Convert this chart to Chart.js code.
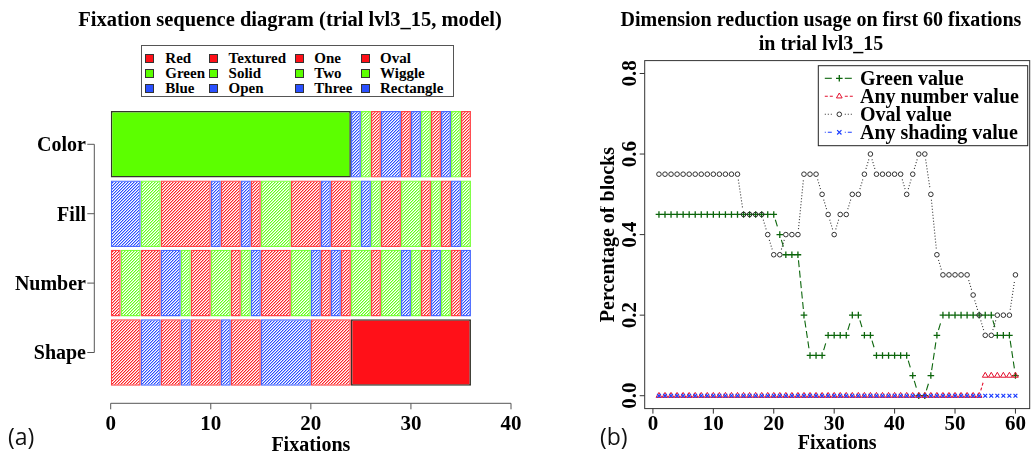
<!DOCTYPE html>
<html><head><meta charset="utf-8">
<script src="https://cdn.jsdelivr.net/npm/chart.js@4.4.1/dist/chart.umd.min.js"></script>
<style>
html,body{margin:0;padding:0;background:#fff;overflow:hidden;width:1035px;height:455px;}
#wrapA{position:absolute;left:0;top:0;width:600px;height:455px;}
#wrapB{position:absolute;left:600px;top:0;width:435px;height:455px;}
.tag{position:absolute;font-family:'Open Sans','Noto Sans',sans-serif;font-size:23px;color:#111;line-height:30px;}
#legA{position:absolute;left:141px;top:45px;width:313px;height:52px;border:1px solid #555;box-sizing:border-box;background:#fff;}
#legA .sq{position:absolute;width:9px;height:9px;border:1px solid #333;box-sizing:border-box;}
#legA .tx{position:absolute;font-family:'Liberation Serif','DejaVu Serif',serif;font-weight:bold;font-size:15px;line-height:15px;color:#000;white-space:nowrap;}
</style></head>
<body>
<div id="wrapA"><canvas id="chartA" width="600" height="455"></canvas></div>
<div id="wrapB"><canvas id="chartB" width="435" height="455"></canvas></div>
<div id="legA"></div>
<div class="tag" style="left:8px;top:421px;">(a)</div>
<div class="tag" style="left:600px;top:421px;">(b)</div>
<script>
// ---------------- DATA: panel (a) ----------------
const rowNames = ['Color', 'Fill', 'Number', 'Shape'];
// attribute value of the fixated block at each of the 36 fixations (R/G/B = first/second/third value)
const colorSeq  = ['G','G','G','G','G','G','G','G','G','G','G','G','G','G','G','G','G','G','G','G','G','G','G','G','B','G','R','B','B','R','B','G','R','B','G','R'];
const fillSeq   = ['B','B','B','G','G','R','R','R','R','R','B','R','R','B','R','G','G','G','R','R','R','B','R','R','G','B','G','R','R','G','G','R','G','R','B','G'];
const numberSeq = ['R','G','G','R','R','B','B','G','R','R','G','G','R','G','B','R','R','R','G','G','B','R','B','R','G','G','R','G','G','B','G','R','B','G','R','B'];
const shapeSeq  = ['R','R','R','B','B','R','R','B','R','R','R','B','R','R','R','B','B','B','B','B','R','R','R','R','R','R','R','R','R','R','R','R','R','R','R','R'];
// dimension the model reduced on at each fixation
const reducedDim = ['Color','Color','Color','Color','Color','Color','Color','Color','Color','Color','Color','Color','Color','Color','Color','Color','Color','Color','Color','Color','Color','Color','Color','Color','Shape','Shape','Shape','Shape','Shape','Shape','Shape','Shape','Shape','Shape','Shape','Shape'];
const xTicksA = [0, 10, 20, 30, 40];
const legendCols = [['Red','Green','Blue'], ['Textured','Solid','Open'], ['One','Two','Three'], ['Oval','Wiggle','Rectangle']];

// ---------------- DATA: panel (b) ----------------
const fixationNo = [1,2,3,4,5,6,7,8,9,10,11,12,13,14,15,16,17,18,19,20,21,22,23,24,25,26,27,28,29,30,31,32,33,34,35,36,37,38,39,40,41,42,43,44,45,46,47,48,49,50,51,52,53,54,55,56,57,58,59,60];
const greenValue = [0.45,0.45,0.45,0.45,0.45,0.45,0.45,0.45,0.45,0.45,0.45,0.45,0.45,0.45,0.45,0.45,0.45,0.45,0.45,0.45,
  0.40,0.35,0.35,0.35,0.20,0.10,0.10,0.10,0.15,0.15,0.15,0.15,0.20,0.20,0.15,0.15,0.10,0.10,0.10,0.10,
  0.10,0.10,0.05,0.00,0.00,0.05,0.15,0.20,0.20,0.20,0.20,0.20,0.20,0.20,0.20,0.20,0.15,0.15,0.15,0.05];
const anyNumberValue = [0,0,0,0,0,0,0,0,0,0,0,0,0,0,0,0,0,0,0,0,0,0,0,0,0,0,0,0,0,0,
  0,0,0,0,0,0,0,0,0,0,0,0,0,0,0,0,0,0,0,0,0,0,0,0,0.05,0.05,0.05,0.05,0.05,0.05];
const ovalValue = [0.55,0.55,0.55,0.55,0.55,0.55,0.55,0.55,0.55,0.55,0.55,0.55,0.55,0.55,0.45,0.45,0.45,0.45,0.40,0.35,
  0.35,0.40,0.40,0.40,0.55,0.55,0.55,0.50,0.45,0.40,0.45,0.45,0.50,0.50,0.55,0.60,0.55,0.55,0.55,0.55,
  0.55,0.50,0.55,0.60,0.60,0.50,0.35,0.30,0.30,0.30,0.30,0.30,0.25,0.20,0.15,0.15,0.20,0.20,0.20,0.30];
const anyShadingValue = [0,0,0,0,0,0,0,0,0,0,0,0,0,0,0,0,0,0,0,0,0,0,0,0,0,0,0,0,0,0,
  0,0,0,0,0,0,0,0,0,0,0,0,0,0,0,0,0,0,0,0,0,0,0,0,0,0,0,0,0,0];
const seriesNames = ['Green value', 'Any number value', 'Oval value', 'Any shading value'];
const xTicksB = [0, 10, 20, 30, 40, 50, 60];
const yTicksB = [0, 0.2, 0.4, 0.6, 0.8];

// ---------------- STYLES ----------------
const SERIF = "'Liberation Serif','DejaVu Serif',serif";
const rgbOf = {R:[255,32,36], G:[98,255,24], B:[40,78,255]};
const solidOf = {R:'#ff1018', G:'#5cff00', B:'#2a50ff'};
const ctxA = document.getElementById('chartA').getContext('2d');
function makeHatch(rgb){
  const c = document.createElement('canvas'); c.width = 6; c.height = 6;
  const g = c.getContext('2d'); const im = g.createImageData(6, 6);
  for (let y = 0; y < 6; y++) for (let x = 0; x < 6; x++) {
    const d = (x + y) % 3; const a = d === 0 ? 255 : (d === 1 ? 105 : 0);
    const o = (y * 6 + x) * 4;
    im.data[o] = rgb[0]; im.data[o+1] = rgb[1]; im.data[o+2] = rgb[2]; im.data[o+3] = a;
  }
  g.putImageData(im, 0, 0);
  return ctxA.createPattern(c, 'repeat');
}
const hatchOf = {R: makeHatch(rgbOf.R), G: makeHatch(rgbOf.G), B: makeHatch(rgbOf.B)};

// ---------------- panel (a) datasets from runs ----------------
const seqs = [colorSeq, fillSeq, numberSeq, shapeSeq];
const datasetsA = [];
seqs.forEach((seq, r) => {
  const runs = [];
  seq.forEach((v, i) => {
    const solid = reducedDim[i] === rowNames[r];
    const last = runs[runs.length - 1];
    if (last && last.v === v && last.solid === solid) last.end = i + 1;
    else runs.push({start: i, end: i + 1, v, solid});
  });
  runs.forEach(run => {
    const rgb = rgbOf[run.v];
    datasetsA.push({
      data: rowNames.map((_, k) => k === r ? [run.start, run.end] : null),
      backgroundColor: run.solid ? solidOf[run.v] : hatchOf[run.v],
      borderColor: run.solid ? 'rgba(30,30,20,0.9)' : `rgba(${rgb[0]},${rgb[1]},${rgb[2]},0.85)`,
      borderWidth: run.solid ? 1.6 : 1.3,
      borderSkipped: false,
      grouped: false,
      barPercentage: 0.96,
      categoryPercentage: 1
    });
  });
});

// legend (a)
const legA = document.getElementById('legA');
const colSq = [4.3, 67.8, 154.3, 220.3], colTx = [24.3, 87.6, 173.3, 239], rowC = [13.3, 28.3, 43.3];
const valKeys = ['R','G','B'];
legendCols.forEach((col, c) => col.forEach((label, r) => {
  const sq = document.createElement('div'); sq.className = 'sq';
  sq.style.left = (colSq[c] - 1) + 'px'; sq.style.top = (rowC[r] - 5.5) + 'px';
  sq.style.background = solidOf[valKeys[r]];
  legA.appendChild(sq);
  const tx = document.createElement('div'); tx.className = 'tx';
  tx.style.left = (colTx[c] - 1) + 'px'; tx.style.top = (rowC[r] - 8.5) + 'px';
  tx.textContent = label; legA.appendChild(tx);
}));

const axesA = {
  id: 'axesA',
  afterDraw(chart) {
    const ctx = chart.ctx, xs = chart.scales.x, ys = chart.scales.y, ca = chart.chartArea;
    ctx.save();
    ctx.strokeStyle = '#555'; ctx.lineWidth = 1; ctx.fillStyle = '#000';
    // y axis (R style, offset)
    const xa = ca.left - 16.4;
    const yFirst = ys.getPixelForValue(0), yLast = ys.getPixelForValue(rowNames.length - 1);
    ctx.beginPath(); ctx.moveTo(xa, yFirst); ctx.lineTo(xa, yLast); ctx.stroke();
    ctx.font = 'bold 20px ' + SERIF; ctx.textAlign = 'right'; ctx.textBaseline = 'alphabetic';
    rowNames.forEach((n, i) => {
      const y = ys.getPixelForValue(i);
      ctx.beginPath(); ctx.moveTo(xa, y); ctx.lineTo(xa - 7, y); ctx.stroke();
      ctx.fillText(n, xa - 8.3, y + 6.8);
    });
    // x axis
    const ya = ca.bottom + 16.1;
    ctx.beginPath(); ctx.moveTo(xs.getPixelForValue(xTicksA[0]), ya); ctx.lineTo(xs.getPixelForValue(xTicksA[xTicksA.length-1]), ya); ctx.stroke();
    ctx.font = 'bold 21px ' + SERIF; ctx.textAlign = 'center';
    xTicksA.forEach(t => {
      const x = xs.getPixelForValue(t);
      ctx.beginPath(); ctx.moveTo(x, ya); ctx.lineTo(x, ya + 6); ctx.stroke();
      ctx.fillText(String(t), x, 430);
    });
    ctx.font = 'bold 20px ' + SERIF;
    ctx.fillText('Fixations', (xs.getPixelForValue(xTicksA[0]) + xs.getPixelForValue(xTicksA[xTicksA.length-1])) / 2, 451);
    ctx.font = 'bold 20.5px ' + SERIF;
    ctx.fillText('Fixation sequence diagram (trial lvl3_15, model)', 290, 26);
    ctx.restore();
  }
};

new Chart(ctxA, {
  type: 'bar',
  data: {labels: rowNames, datasets: datasetsA},
  options: {
    indexAxis: 'y', responsive: false, animation: false, events: [],
    layout: {padding: {left: 110.7, right: 89, top: 109.6, bottom: 67.8}},
    scales: {
      x: {type: 'linear', min: 0, max: 40, display: false},
      y: {type: 'category', display: false}
    },
    plugins: {legend: {display: false}, title: {display: false}, tooltip: {enabled: false}}
  },
  plugins: [axesA]
});

// ---------------- panel (b) ----------------
const styleB = [
  {color: '#0b650b', dash: [7, 3.5], pointStyle: 'cross',    radius: 3.3, bw: 1.3, order: 4},
  {color: '#e3102e', dash: [3, 2],   pointStyle: 'triangle', radius: 3.3, bw: 1.0, order: 3},
  {color: '#303030', dash: [1, 2],   pointStyle: 'circle',   radius: 2.3, bw: 1.0, order: 2},
  {color: '#1a3cff', dash: [1, 2, 4, 2], pointStyle: 'crossRot', radius: 2.7, bw: 1.2, order: 1}
];
const valuesB = [greenValue, anyNumberValue, ovalValue, anyShadingValue];
const datasetsB = valuesB.map((vals, i) => ({
  label: seriesNames[i],
  data: vals.map((v, j) => ({x: fixationNo[j], y: v})),
  showLine: false,
  borderColor: styleB[i].color,
  backgroundColor: 'rgba(0,0,0,0)',
  pointStyle: styleB[i].pointStyle,
  pointRadius: styleB[i].radius,
  pointBorderWidth: styleB[i].bw,
  pointBackgroundColor: 'rgba(0,0,0,0)',
  order: styleB[i].order,
  dashPattern: styleB[i].dash
}));

const GAP = 5.5;
const typeB = {
  id: 'typeB',
  beforeDatasetsDraw(chart) {
    const ctx = chart.ctx;
    chart.data.datasets.forEach((ds, i) => {
      const pts = chart.getDatasetMeta(i).data;
      ctx.save();
      ctx.strokeStyle = ds.borderColor; ctx.lineWidth = 1.1; ctx.setLineDash(ds.dashPattern);
      for (let j = 0; j < pts.length - 1; j++) {
        const a = pts[j], b = pts[j+1];
        const dx = b.x - a.x, dy = b.y - a.y, L = Math.hypot(dx, dy);
        if (L <= 2 * GAP) continue;
        const ux = dx / L, uy = dy / L;
        ctx.beginPath(); ctx.moveTo(a.x + ux * GAP, a.y + uy * GAP); ctx.lineTo(b.x - ux * GAP, b.y - uy * GAP); ctx.stroke();
      }
      ctx.restore();
    });
  }
};

function drawMarker(ctx, style, r, bw, color, x, y) {
  ctx.save(); ctx.strokeStyle = color; ctx.lineWidth = bw; ctx.setLineDash([]);
  ctx.beginPath();
  if (style === 'cross') { ctx.moveTo(x - r, y); ctx.lineTo(x + r, y); ctx.moveTo(x, y - r); ctx.lineTo(x, y + r); }
  else if (style === 'crossRot') { const d = r * 0.8; ctx.moveTo(x - d, y - d); ctx.lineTo(x + d, y + d); ctx.moveTo(x - d, y + d); ctx.lineTo(x + d, y - d); }
  else if (style === 'triangle') { ctx.moveTo(x, y - r); ctx.lineTo(x + r * 0.866, y + r * 0.5); ctx.lineTo(x - r * 0.866, y + r * 0.5); ctx.closePath(); }
  else { ctx.arc(x, y, r, 0, Math.PI * 2); }
  ctx.stroke(); ctx.restore();
}

const axesB = {
  id: 'axesB',
  afterDraw(chart) {
    const ctx = chart.ctx, xs = chart.scales.x, ys = chart.scales.y, ca = chart.chartArea;
    ctx.save();
    ctx.strokeStyle = '#333'; ctx.lineWidth = 1; ctx.fillStyle = '#000';
    ctx.strokeRect(ca.left, ca.top, ca.right - ca.left, ca.bottom - ca.top);
    // x ticks
    ctx.font = 'bold 21px ' + SERIF; ctx.textAlign = 'center'; ctx.textBaseline = 'alphabetic';
    xTicksB.forEach(t => {
      const x = xs.getPixelForValue(t);
      ctx.beginPath(); ctx.moveTo(x, ca.bottom); ctx.lineTo(x, ca.bottom + 5); ctx.stroke();
      ctx.fillText(String(t), x, 430);
    });
    ctx.font = 'bold 20px ' + SERIF;
    ctx.fillText('Fixations', (ca.left + ca.right) / 2, 449);
    // y ticks, rotated labels
    ctx.font = 'bold 21px ' + SERIF;
    yTicksB.forEach(t => {
      const y = ys.getPixelForValue(t);
      ctx.beginPath(); ctx.moveTo(ca.left, y); ctx.lineTo(ca.left - 5, y); ctx.stroke();
      ctx.save(); ctx.translate(ca.left - 8.5, y); ctx.rotate(-Math.PI / 2);
      ctx.textAlign = 'center'; ctx.fillText(t.toFixed(1), 0, 0); ctx.restore();
    });
    ctx.save(); ctx.translate(14, (ca.top + ca.bottom) / 2); ctx.rotate(-Math.PI / 2);
    ctx.font = 'bold 20px ' + SERIF; ctx.textAlign = 'center';
    ctx.fillText('Percentage of blocks', 0, 0); ctx.restore();
    // title
    ctx.font = 'bold 20px ' + SERIF; ctx.textAlign = 'center';
    ctx.fillText('Dimension reduction usage on first 60 fixations', 221, 26);
    ctx.fillText('in trial lvl3_15', 221, 50);
    // legend
    const lx = 218.3, ly = 65.7, lw = 209.4, lh = 80;
    ctx.fillStyle = '#fff'; ctx.fillRect(lx, ly, lw, lh);
    ctx.strokeStyle = '#222'; ctx.strokeRect(lx, ly, lw, lh);
    ctx.font = 'bold 20px ' + SERIF; ctx.textAlign = 'left'; ctx.fillStyle = '#000';
    chart.data.datasets.forEach((ds, i) => {
      const y = ly + 12.6 + i * 18;
      ctx.save(); ctx.strokeStyle = ds.borderColor; ctx.lineWidth = 1.1; ctx.setLineDash(ds.dashPattern);
      ctx.beginPath(); ctx.moveTo(lx + 6.5, y); ctx.lineTo(lx + 15.5, y); ctx.stroke();
      ctx.beginPath(); ctx.moveTo(lx + 26.5, y); ctx.lineTo(lx + 35.5, y); ctx.stroke();
      ctx.restore();
      drawMarker(ctx, ds.pointStyle, ds.pointRadius, ds.pointBorderWidth, ds.borderColor, lx + 21, y);
      ctx.fillText(ds.label, lx + 41.7, y + 6.8);
    });
    ctx.restore();
  }
};

new Chart(document.getElementById('chartB'), {
  type: 'line',
  data: {datasets: datasetsB},
  options: {
    responsive: false, animation: false, events: [],
    layout: {padding: {left: 44.7, right: 1.6, top: 60.6, bottom: 46.4}},
    scales: {
      x: {type: 'linear', min: -1.36, max: 62.36, display: false},
      y: {type: 'linear', min: -0.032, max: 0.832, display: false}
    },
    plugins: {legend: {display: false}, title: {display: false}, tooltip: {enabled: false}}
  },
  plugins: [typeB, axesB]
});
</script>
</body></html>
